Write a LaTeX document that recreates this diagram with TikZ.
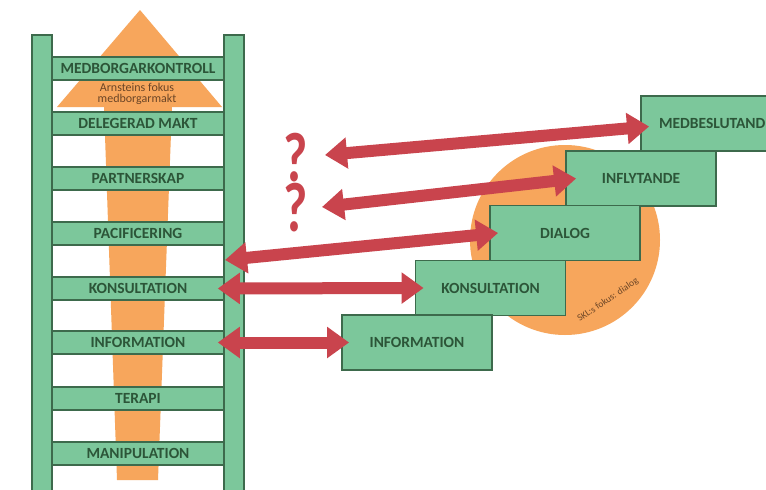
\documentclass[tikz,border=0pt]{standalone}
\usepackage{fontspec}
\setmainfont{Carlito}
\usetikzlibrary{arrows.meta}
\definecolor{grn}{HTML}{7CC79B}
\definecolor{grnD}{HTML}{3D6A4C}
\definecolor{txtG}{HTML}{2C5538}
\definecolor{org}{HTML}{F7A65C}
\definecolor{rd}{HTML}{C9444D}
\definecolor{brn}{HTML}{6B4526}
\begin{document}
\begin{tikzpicture}[x=1pt,y=-1pt,
  lbl/.style={font=\fontsize{15.5}{17}\selectfont\bfseries, text=txtG},
  rung/.style={lbl, draw=grnD, fill=grn, line width=1.6pt, minimum width=172pt, minimum height=23pt, inner sep=0pt},
  rail/.style={draw=grnD, fill=grn, line width=1.6pt},
  stepbox/.style={lbl, draw=grnD, fill=grn, line width=1.8pt, minimum width=150pt, minimum height=55pt, inner sep=0pt},
  dbl/.style={draw=rd, line width=12pt, {Triangle[width=30pt,length=22pt]}-{Triangle[width=30pt,length=22pt]}},
  qm/.style={text=rd, font=\fontsize{70}{70}\selectfont\bfseries, xscale=0.75, inner sep=0pt}
]
\useasboundingbox (0,0) rectangle (766,490);
\clip (0,0) rectangle (766,490);
\fill[white] (0,0) rectangle (766,490);

% orange up arrow
\fill[org] (140,10) -- (222,107) -- (172,107) -- (158,480) -- (117,480) -- (104,107) -- (57,107) -- cycle;
\node[text=brn, font=\fontsize{12}{11}\selectfont, align=center, inner sep=0pt] (arn) at (137,94) {Arnsteins fokus\\medborgarmakt};

% rungs
\node[rung] (rMed)  at (138,68.5)  {MEDBORGARKONTROLL};
\node[rung] (rDel)  at (138,123.5) {DELEGERAD MAKT};
\node[rung] (rPart) at (138,178.5) {PARTNERSKAP};
\node[rung] (rPac)  at (138,233.5) {PACIFICERING};
\node[rung] (rKons) at (138,288.5) {KONSULTATION};
\node[rung] (rInfo) at (138,342.5) {INFORMATION};
\node[rung] (rTer)  at (138,398.5) {TERAPI};
\node[rung] (rMan)  at (138,453.5) {MANIPULATION};

% rails
\draw[rail] (32,35) rectangle (52,500);
\draw[rail] (224,35) rectangle (244,500);

% orange circle
\fill[org] (565,240) circle (95);
\node[text=brn, font=\fontsize{9.5}{10}\selectfont, rotate=34, inner sep=0pt] (skl) at (608,300) {SKL:s fokus: dialog};

% steps
\node[stepbox] (bMed)  at (716,123.5) {MEDBESLUTANDE};
\node[stepbox] (bInfl) at (641,178.5) {INFLYTANDE};
\node[stepbox] (bDial) at (565,233)   {DIALOG};
\node[stepbox] (bKons) at (490.5,288) {KONSULTATION};
\node[stepbox] (bInfo) at (417,342.5) {INFORMATION};

% question marks
\node[qm] (q1) at (296,158) {?};
\node[qm] (q2) at (296,208) {?};

\coordinate (c3) at (225,260);
\coordinate (c4) at (322,207);
\coordinate (c5) at (325,155);

% red double arrows
\draw[dbl] ([xshift=-7pt]rInfo.east) -- ([xshift=8pt]bInfo.west);
\draw[dbl] ([xshift=-7pt]rKons.east) -- ([xshift=9pt]bKons.west);
\draw[dbl] (c3) -- ([xshift=9pt]bDial.west);
\draw[dbl] (c4) -- ([xshift=11pt]bInfl.west);
\draw[dbl] (c5) -- ([xshift=9pt,yshift=-3pt]bMed.west);
\end{tikzpicture}
\end{document}
